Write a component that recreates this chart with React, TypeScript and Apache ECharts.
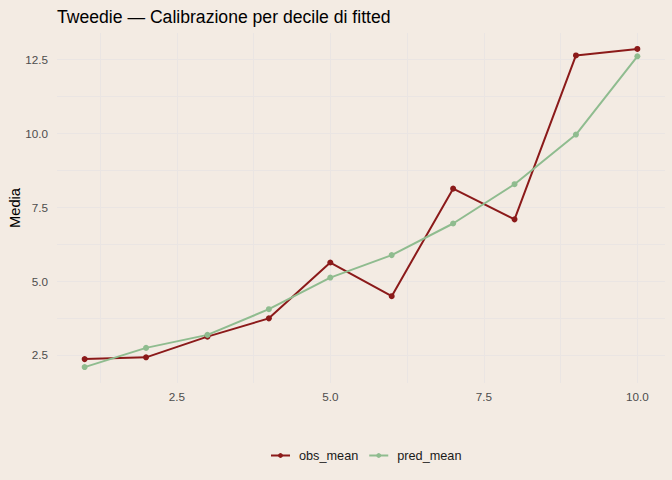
import React, { useEffect, useRef } from "react";
import * as echarts from "echarts";

const deciles = [1, 2, 3, 4, 5, 6, 7, 8, 9, 10];
const obsMean = [2.36, 2.42, 3.12, 3.74, 5.63, 4.49, 8.13, 7.09, 12.64, 12.86];
const predMean = [2.09, 2.74, 3.18, 4.05, 5.12, 5.88, 6.95, 8.28, 9.96, 12.61];
const xTickLabels = [2.5, 5, 7.5, 10];
const xGridValues = [1.25, 2.5, 3.75, 5, 6.25, 7.5, 8.75, 10];
const yTickLabels = [2.5, 5, 7.5, 10, 12.5];
const yGridValues = [2.5, 3.75, 5, 6.25, 7.5, 8.75, 10, 11.25, 12.5];

const FONT = "'Liberation Sans', Arial, sans-serif";
const BG = "#F3EBE3";
const GRID = "#EAE5E3";
const OBS = "#8B1A1A";
const PRED = "#8FBC8F";

export default function App() {
  const ref = useRef<HTMLDivElement>(null);
  useEffect(() => {
    document.body.style.margin = "0";
    if (!ref.current) return;
    const chart = echarts.init(ref.current, undefined, { renderer: "svg" });
    const xLo = Math.min(...deciles);
    const xHi = Math.max(...deciles);
    const xPad = (xHi - xLo) * 0.05;
    const all = [...obsMean, ...predMean];
    const yLo = Math.min(...all);
    const yHi = Math.max(...all);
    const yPad = (yHi - yLo) * 0.05;
    chart.setOption({
      animation: false,
      backgroundColor: BG,
      textStyle: { fontFamily: FONT },
      title: {
        text: "Tweedie — Calibrazione per decile di fitted",
        left: 52,
        top: 3,
        textStyle: { fontFamily: FONT, fontSize: 17.6, fontWeight: "normal", color: "#000" },
      },
      grid: { left: 57, right: 7, top: 33, bottom: 97, outerBoundsMode: "none" },
      legend: {
        bottom: 18,
        left: 270,
        padding: 0,
        itemWidth: 19,
        itemHeight: 6,
        itemGap: 10,
        textStyle: { fontFamily: FONT, fontSize: 12.7, color: "#1a1a1a", padding: [0, 0, 0, 4] },
        data: ["obs_mean", "pred_mean"],
      },
      xAxis: {
        type: "value",
        min: xLo - xPad,
        max: xHi + xPad,
        axisLine: { show: false },
        axisTick: { show: false, customValues: xGridValues },
        axisLabel: {
          customValues: xTickLabels,
          formatter: (v: number) => v.toFixed(1),
          color: "#4D4D4D",
          fontSize: 11.7,
          fontFamily: FONT,
          margin: 7,
        },
        splitLine: { show: true, lineStyle: { color: GRID, width: 1 } },
      },
      yAxis: {
        type: "value",
        name: "Media",
        nameLocation: "middle",
        nameGap: 35,
        nameMoveOverlap: false,
        nameTextStyle: { fontFamily: FONT, fontSize: 14.67, color: "#000" },
        min: yLo - yPad,
        max: yHi + yPad,
        axisLine: { show: false },
        axisTick: { show: false, customValues: yGridValues },
        axisLabel: {
          customValues: yTickLabels,
          formatter: (v: number) => v.toFixed(1),
          color: "#4D4D4D",
          fontSize: 11.7,
          fontFamily: FONT,
          margin: 9,
        },
        splitLine: { show: true, lineStyle: { color: GRID, width: 1 } },
      },
      series: [
        {
          name: "obs_mean",
          type: "line",
          data: deciles.map((d, i) => [d, obsMean[i]]),
          symbol: "circle",
          symbolSize: 6,
          itemStyle: { color: OBS },
          lineStyle: { color: OBS, width: 2 },
        },
        {
          name: "pred_mean",
          type: "line",
          data: deciles.map((d, i) => [d, predMean[i]]),
          symbol: "circle",
          symbolSize: 6,
          itemStyle: { color: PRED },
          lineStyle: { color: PRED, width: 2 },
        },
      ],
    });
    return () => chart.dispose();
  }, []);
  return <div ref={ref} style={{ width: 672, height: 480 }} />;
}
